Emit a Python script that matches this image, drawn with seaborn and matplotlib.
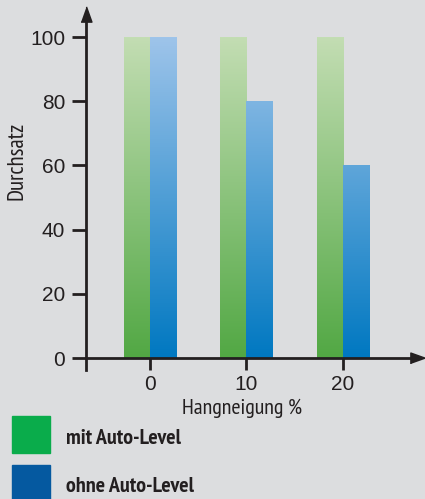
import numpy as np
import pandas as pd
import matplotlib
matplotlib.use("Agg")
import matplotlib.pyplot as plt
import seaborn as sns
from matplotlib.colors import LinearSegmentedColormap
from matplotlib.patches import Rectangle

# data
hangneigung = ["0", "10", "20"]
mit_auto_level = [100, 100, 100]
ohne_auto_level = [100, 80, 60]
series = ["mit Auto-Level", "ohne Auto-Level"]

bg = "#dcdddf"
ink = "#231f20"
green_grad = ["#52a844", "#c3ddb3"]   # bottom -> top
blue_grad = ["#0078c1", "#9ec4ea"]
legend_cols = ["#0aac4b", "#0559a0"]
narrow = ["PT Sans Narrow", "Fira Sans Condensed", "Liberation Sans Narrow", "DejaVu Sans"]

df = pd.DataFrame({
    "Hangneigung": hangneigung * 2,
    "Durchsatz": mit_auto_level + ohne_auto_level,
    "Serie": [series[0]] * 3 + [series[1]] * 3,
})

sns.set_style("white")
plt.rcParams["font.family"] = ["Liberation Sans", "Arimo", "DejaVu Sans"]

fig = plt.figure(figsize=(4.25, 4.99), dpi=100, facecolor=bg)
ax = fig.add_axes([0.2024, 0.2585, 0.781, 0.7134])
ax.set_facecolor(bg)

sns.barplot(data=df, x="Hangneigung", y="Durchsatz", hue="Serie",
            order=hangneigung, hue_order=series,
            palette=[green_grad[0], blue_grad[0]], width=0.54,
            saturation=1, legend=False, linewidth=0, edgecolor="none", ax=ax)

# vertical gradient over 0..100, clipped to each bar
grad = np.linspace(0, 1, 256).reshape(-1, 1)
for cont, cols in zip(ax.containers, [green_grad, blue_grad]):
    cmap = LinearSegmentedColormap.from_list("g", cols)
    for bar in cont:
        x0 = bar.get_x()
        x1 = x0 + bar.get_width()
        im = ax.imshow(grad, cmap=cmap, origin="lower", aspect="auto",
                       extent=(x0, x1, 0, 100), zorder=3)
        im.set_clip_path(bar)

ax.set_xlim(-0.663, 2.777)
ax.set_ylim(-3.74, 107.2)
ax.set_yticks([0, 20, 40, 60, 80, 100])

for s in ["top", "right"]:
    ax.spines[s].set_visible(False)
for s in ["left", "bottom"]:
    ax.spines[s].set_linewidth(2)
    ax.spines[s].set_color(ink)
ax.spines["bottom"].set_position(("data", 0))
ax.spines["bottom"].set_zorder(4)

ax.tick_params(axis="y", direction="out", length=10, width=2, color=ink,
               labelsize=15, labelcolor=ink, pad=5, left=True)
ax.tick_params(axis="x", direction="out", length=8.5, width=2, color=ink,
               labelsize=15, labelcolor=ink, pad=4, bottom=True)

# arrow heads
ax.plot(0, 1, marker=[(-5, -7), (5, -7), (0, 7)], ms=11, color=ink,
        transform=ax.transAxes, clip_on=False)
ax.plot(1, 0.0337, marker=[(-7, -5), (-7, 5), (7, 0)], ms=11, color=ink,
        transform=ax.transAxes, clip_on=False)

ax.set_xlabel("Hangneigung %", fontsize=15.8, color=ink, family=narrow)
ax.xaxis.set_label_coords(0.47, -0.107)
ax.xaxis.label.set_va("center")
ax.set_ylabel("Durchsatz", fontsize=16.5, color=ink, family=narrow)
ax.yaxis.set_label_coords(-0.208, 0.587)
ax.yaxis.label.set_va("center")

# legend
for i, (lab, col) in enumerate(zip(series, legend_cols)):
    top = 416 + i * 49
    fig.add_artist(Rectangle((12 / 425, (499 - top - 37) / 499), 38 / 425, 37 / 499,
                             transform=fig.transFigure, color=col))
    fig.text(66 / 425, (499 - top - 22) / 499, lab, fontsize=15.8, fontweight="bold",
             color=ink, family=narrow, va="center", ha="left")

fig.savefig("out.png", dpi=100, facecolor=bg)
